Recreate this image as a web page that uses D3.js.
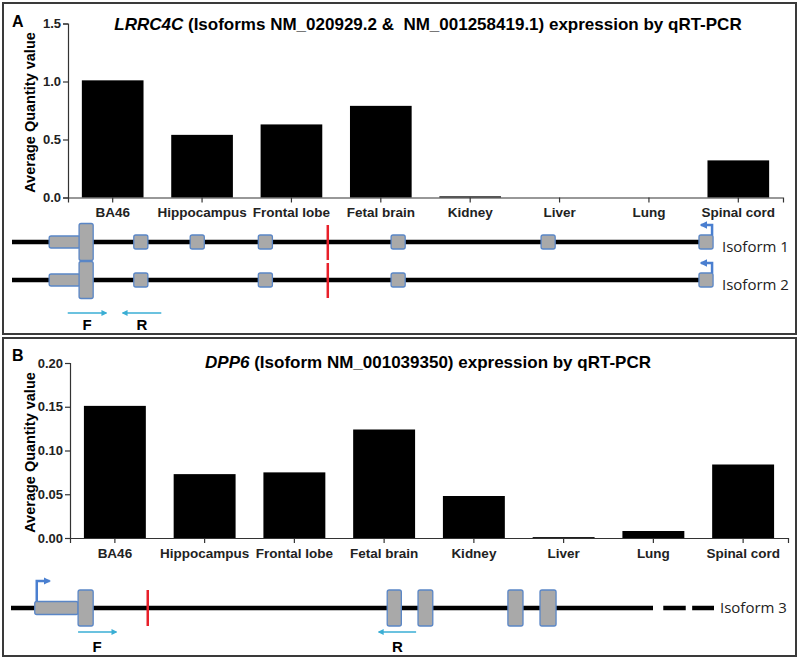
<!DOCTYPE html>
<html>
<head>
<meta charset="utf-8">
<script src="https://cdn.jsdelivr.net/npm/d3@7"></script>
<style>
  body { margin: 0; background: #fff; }
  svg { display: block; }
  .tick text { font-family: "Liberation Sans", Arial, sans-serif; font-weight: bold; fill: #222; }
</style>
</head>
<body>
<div id="chart"></div>
<script>
const width = 800, height = 664;

// qRT-PCR data
const tissues = ["BA46", "Hippocampus", "Frontal lobe", "Fetal brain", "Kidney", "Liver", "Lung", "Spinal cord"];
const lrrc4cValues = [1.01, 0.54, 0.63, 0.79, 0.01, 0.0, 0.0, 0.32];
const dpp6Values = [0.151, 0.073, 0.075, 0.124, 0.048, 0.001, 0.008, 0.084];
const lrrc4cTicks = [0, 0.5, 1.0, 1.5];
const dpp6Ticks = [0, 0.05, 0.10, 0.15, 0.20];

// gene diagrams, in diagram units (0 = start of intron line, 100 = end)
const iso1Squares = [17.7, 25.9, 35.8, 55.1, 76.9, 99.85];
const iso2Squares = [17.7, 35.8, 55.1, 99.85];
const lrrcLowExon = [5.4, 9.9];
const lrrcTallExon = [9.75, 11.8];
const lrrcSite = 45.9;
const lrrcPrimers = [{label: "F", from: 8.1, to: 13.7}, {label: "R", from: 21.7, to: 16.1}];

const dppLowExon = [3.7, 10.45];
const dppTallExons = [[10.45, 12.8], [58.6, 60.8], [63.4, 65.7], [77.4, 79.75], [82.4, 84.9]];
const dppSite = 21.3;
const dppDashes = [[101.6, 105.1], [106.1, 109.5]];
const dppPrimers = [{label: "F", from: 10.45, to: 16.4}, {label: "R", from: 63.1, to: 57.3}];

const exonFill = "#a9a9a9", exonStroke = "#5a86c6", tssColor = "#4a7fd0", primerColor = "#3aaed4";
const font = "'Liberation Sans', Arial, sans-serif";

const svg = d3.select("#chart").append("svg")
  .attr("width", width).attr("height", height);

const defs = svg.append("defs");
function marker(id, color, w, h) {
  defs.append("marker")
    .attr("id", id).attr("viewBox", "0 0 10 10")
    .attr("refX", 8).attr("refY", 5)
    .attr("markerWidth", w).attr("markerHeight", h)
    .attr("orient", "auto")
    .append("path").attr("d", "M0,0 L10,5 L0,10 z").attr("fill", color);
}
marker("primerHead", primerColor, 4, 4);
marker("tssHead", tssColor, 3, 3);

// panel frames
[[3, 3, 793, 331], [3, 338, 793, 318]].forEach(p => {
  svg.append("rect")
    .attr("x", p[0]).attr("y", p[1]).attr("width", p[2]).attr("height", p[3])
    .attr("fill", "none").attr("stroke", "#3a3a3a").attr("stroke-width", 2);
});

function barPanel(opt) {
  const x = d3.scaleBand().domain(tissues).range(opt.xRange).paddingInner(0.31).paddingOuter(0.155);
  const y = d3.scaleLinear().domain(opt.domain).range(opt.yRange);
  const g = svg.append("g");

  g.append("text").attr("x", 12).attr("y", opt.letterY)
    .attr("font-family", font).attr("font-weight", "bold").attr("font-size", 16)
    .text(opt.letter);

  const title = g.append("text").attr("x", 428).attr("y", opt.titleY)
    .attr("text-anchor", "middle")
    .attr("font-family", font).attr("font-weight", "bold").attr("font-size", 17);
  title.append("tspan").attr("font-style", "italic").text(opt.gene);
  title.append("tspan").text(opt.title);

  g.append("text")
    .attr("transform", `translate(35,${(opt.yRange[0] + opt.yRange[1]) / 2 + 2}) rotate(-90)`)
    .attr("text-anchor", "middle")
    .attr("font-family", font).attr("font-weight", "bold").attr("font-size", 14.5)
    .text("Average Quantity value");

  g.selectAll("rect.bar")
    .data(opt.values.filter(d => d > 0).map(d => ({v: d, t: tissues[opt.values.indexOf(d)]})))
    .enter().append("rect")
      .attr("class", "bar")
      .attr("x", d => x(d.t))
      .attr("width", x.bandwidth())
      .attr("y", d => y(d.v))
      .attr("height", d => Math.max(1, y(0) - y(d.v)))
      .attr("fill", "#000");

  const yAxis = g.append("g")
    .attr("transform", `translate(${opt.xRange[0]},0)`)
    .call(d3.axisLeft(y).tickValues(opt.ticks).tickFormat(d3.format(opt.fmt)).tickSize(5).tickPadding(2));
  yAxis.selectAll("text").attr("font-size", 13);

  const xAxis = g.append("g")
    .attr("transform", `translate(0,${opt.yRange[0]})`)
    .call(d3.axisBottom(x).tickSize(5).tickPadding(5));
  xAxis.selectAll("text").attr("font-size", 13.5);

  [yAxis, xAxis].forEach(a => {
    a.select(".domain").attr("stroke", "#333").attr("stroke-width", 1.2);
    a.selectAll(".tick line").attr("stroke", "#333").attr("stroke-width", 1.2);
  });
}

barPanel({
  letter: "A", letterY: 27, gene: "LRRC4C", titleY: 30,
  title: " (Isoforms NM_020929.2 &\u00a0 NM_001258419.1) expression by qRT-PCR",
  values: lrrc4cValues, ticks: lrrc4cTicks, fmt: ".1f",
  domain: [0, 1.5], xRange: [68, 783], yRange: [197.5, 23.5]
});

barPanel({
  letter: "B", letterY: 361, gene: "DPP6", titleY: 368,
  title: " (Isoform NM_001039350) expression by qRT-PCR",
  values: dpp6Values, ticks: dpp6Ticks, fmt: ".2f",
  domain: [0, 0.2], xRange: [70, 788], yRange: [538, 363]
});

// gene structure helpers
function exon(g, xs, x0, x1, cy, h) {
  g.append("rect")
    .attr("x", xs(x0)).attr("y", cy - h / 2)
    .attr("width", xs(x1) - xs(x0)).attr("height", h)
    .attr("rx", 2)
    .attr("fill", exonFill).attr("stroke", exonStroke).attr("stroke-width", 1.3);
}

function primers(g, xs, list, ay, ly) {
  list.forEach(p => {
    g.append("line")
      .attr("x1", xs(p.from)).attr("x2", xs(p.to))
      .attr("y1", ay).attr("y2", ay)
      .attr("stroke", primerColor).attr("stroke-width", 1.5)
      .attr("marker-end", "url(#primerHead)");
    g.append("text")
      .attr("x", xs((p.from + p.to) / 2)).attr("y", ly)
      .attr("text-anchor", "middle")
      .attr("font-family", font).attr("font-weight", "bold").attr("font-size", 15)
      .text(p.label);
  });
}

function isoLabel(g, x, y, txt) {
  g.append("text").attr("x", x).attr("y", y)
    .attr("font-family", "'Open Sans', sans-serif").attr("font-size", 15).attr("fill", "#222")
    .text(txt);
}

// LRRC4C isoforms (panel A)
const xa = d3.scaleLinear().domain([0, 100]).range([12, 700]);
const gA = svg.append("g");
const isoRows = [{cy: 242, squares: iso1Squares, name: "Isoform 1"}, {cy: 280, squares: iso2Squares, name: "Isoform 2"}];
isoRows.forEach(r => {
  gA.append("line")
    .attr("x1", xa(0)).attr("x2", xa(100)).attr("y1", r.cy).attr("y2", r.cy)
    .attr("stroke", "#000").attr("stroke-width", 4.5);
  gA.append("line")
    .attr("x1", xa(lrrcSite)).attr("x2", xa(lrrcSite))
    .attr("y1", r.cy - 17).attr("y2", r.cy + 18)
    .attr("stroke", "#e8202a").attr("stroke-width", 2.5);
  exon(gA, xa, lrrcLowExon[0], lrrcLowExon[1], r.cy, 12);
  exon(gA, xa, lrrcTallExon[0], lrrcTallExon[1], r.cy, 37);
  r.squares.forEach(s => exon(gA, xa, s, s + 2.05, r.cy, 14));
  // reverse-strand start arrow
  const last = r.squares[r.squares.length - 1] + 2.05;
  gA.append("path")
    .attr("d", `M${xa(last) - 1},${r.cy - 7} V${r.cy - 17} H${xa(100) + 1}`)
    .attr("fill", "none").attr("stroke", tssColor).attr("stroke-width", 2.5)
    .attr("marker-end", "url(#tssHead)");
  isoLabel(gA, 722, r.cy + 10, r.name);
});
primers(gA, xa, lrrcPrimers, 313, 330);

// DPP6 isoform (panel B)
const xb = d3.scaleLinear().domain([0, 100]).range([11, 653]);
const gB = svg.append("g");
const cyB = 608;
gB.append("line")
  .attr("x1", xb(0)).attr("x2", xb(100)).attr("y1", cyB).attr("y2", cyB)
  .attr("stroke", "#000").attr("stroke-width", 4.5);
dppDashes.forEach(d => {
  gB.append("line")
    .attr("x1", xb(d[0])).attr("x2", xb(d[1])).attr("y1", cyB).attr("y2", cyB)
    .attr("stroke", "#000").attr("stroke-width", 4.5);
});
gB.append("line")
  .attr("x1", xb(dppSite)).attr("x2", xb(dppSite))
  .attr("y1", cyB - 18).attr("y2", cyB + 18)
  .attr("stroke", "#e8202a").attr("stroke-width", 2.5);
gB.append("path")
  .attr("d", `M${xb(dppLowExon[0]) + 2},${cyB - 6} V${cyB - 27} H${xb(dppLowExon[0] + 2.3)}`)
  .attr("fill", "none").attr("stroke", tssColor).attr("stroke-width", 2.5)
  .attr("marker-end", "url(#tssHead)");
exon(gB, xb, dppLowExon[0], dppLowExon[1], cyB, 13);
dppTallExons.forEach(e => exon(gB, xb, e[0], e[1], cyB, 36));
primers(gB, xb, dppPrimers, 632, 652);
isoLabel(gB, 720, cyB + 5, "Isoform 3");
</script>
</body>
</html>
